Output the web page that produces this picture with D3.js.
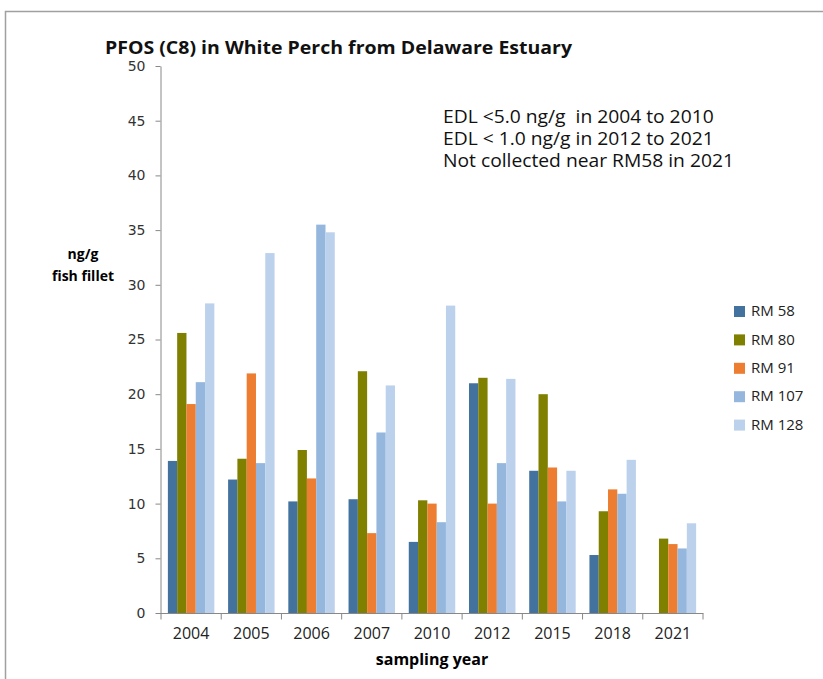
<!DOCTYPE html>
<html>
<head>
<meta charset="utf-8">
<script src="https://cdn.jsdelivr.net/npm/d3@7"></script>
<style>
body { margin: 0; background: #fff; }
text { font-family: "Open Sans", Lato, sans-serif; }
</style>
</head>
<body>
<svg id="svg"></svg>
<script>
var width = 823, height = 679;

var years = ["2004", "2005", "2006", "2007", "2010", "2012", "2015", "2018", "2021"];
var sites = ["RM 58", "RM 80", "RM 91", "RM 107", "RM 128"];
var colors = ["#44729f", "#7f7f00", "#ed7d31", "#95b7de", "#bcd1ec"];

// values by site, one per year (null = not collected)
var rm58 = [13.9, 12.2, 10.2, 10.4, 6.5, 21.0, 13.0, 5.3, null];
var rm80 = [25.6, 14.1, 14.9, 22.1, 10.3, 21.5, 20.0, 9.3, 6.8];
var rm91 = [19.1, 21.9, 12.3, 7.3, 10.0, 10.0, 13.3, 11.3, 6.3];
var rm107 = [21.1, 13.7, 35.5, 16.5, 8.3, 13.7, 10.2, 10.9, 5.9];
var rm128 = [28.3, 32.9, 34.8, 20.8, 28.1, 21.4, 13.0, 14.0, 8.2];
var yTicks = [0, 5, 10, 15, 20, 25, 30, 35, 40, 45, 50];
var notes = ["EDL <5.0 ng/g  in 2004 to 2010", "EDL < 1.0 ng/g in 2012 to 2021", "Not collected near RM58 in 2021"];

var series = [rm58, rm80, rm91, rm107, rm128];

var svg = d3.select("#svg")
	.attr("width", width)
	.attr("height", height);

// frame lines (top and left only visible)
svg.append("path")
	.attr("d", "M5.5," + height + "V11.5H" + width)
	.attr("fill", "none")
	.attr("stroke", "#a0a0a0")
	.attr("stroke-width", 1.5);

var x0 = d3.scaleBand()
	.domain(years)
	.range([161, 703]);

var x1 = d3.scaleBand()
	.domain(sites)
	.range([0, x0.bandwidth()])
	.paddingInner(0)
	.paddingOuter(0.74);

var y = d3.scaleLinear()
	.domain([0, 50])
	.range([613, 66]);

var color = d3.scaleOrdinal().domain(sites).range(colors);

var rows = years.map(function(yr, i) {
	return { year: yr, vals: sites.map(function(s, j) { return { key: s, value: series[j][i] }; }) };
});

svg.append("g")
	.selectAll("g")
	.data(rows)
	.enter()
	.append("g")
	.attr("transform", function(d) { return "translate(" + x0(d.year) + ",0)"; })
	.selectAll("rect")
	.data(function(d) { return d.vals.filter(function(v) { return v.value != null; }); })
	.enter().append("rect")
	.attr("x", function(d) { return x1(d.key); })
	.attr("y", function(d) { return y(d.value); })
	.attr("width", x1.bandwidth())
	.attr("height", function(d) { return y(0) - y(d.value); })
	.attr("fill", function(d) { return color(d.key); });

// y axis
var yAxis = svg.append("g")
	.attr("transform", "translate(160.5,0)")
	.call(d3.axisLeft(y).tickValues(yTicks).tickSize(5).tickSizeOuter(0).tickPadding(10));
yAxis.selectAll("text")
	.attr("fill", "#333")
	.style("font-family", "'DejaVu Sans', sans-serif")
	.style("font-size", "14px");

// x axis with ticks at band boundaries
var xAxis = svg.append("g")
	.attr("transform", "translate(0," + (y(0) + 0.5) + ")")
	.call(d3.axisBottom(x0).tickSize(0).tickPadding(14));
xAxis.selectAll("text")
	.style("font-size", "16px")
	.attr("fill", "#222");
xAxis.selectAll(".tickline")
	.data(years.concat(["end"]))
	.enter().append("line")
	.attr("class", "tickline")
	.attr("x1", function(d, i) { return i < years.length ? x0(d) : x0(years[years.length - 1]) + x0.bandwidth(); })
	.attr("x2", function(d, i) { return i < years.length ? x0(d) : x0(years[years.length - 1]) + x0.bandwidth(); })
	.attr("y1", 0)
	.attr("y2", 6);
xAxis.select(".domain").attr("d", "M160,0H703.5");
svg.selectAll(".domain, .tick line, .tickline").attr("stroke", "#888");

// title
svg.append("text")
	.attr("x", 105)
	.attr("y", 54)
	.attr("font-weight", "bold")
	.attr("font-size", 17)
	.attr("fill", "#111")
	.attr("textLength", 467)
	.attr("lengthAdjust", "spacingAndGlyphs")
	.text("PFOS (C8) in White Perch from Delaware Estuary");

// y label
svg.append("text")
	.attr("x", 83)
	.attr("y", 259)
	.attr("text-anchor", "middle")
	.attr("font-weight", "bold")
	.attr("font-size", 14)
	.text("ng/g");
svg.append("text")
	.attr("x", 83)
	.attr("y", 281)
	.attr("text-anchor", "middle")
	.attr("font-weight", "bold")
	.attr("font-size", 14)
	.text("fish fillet");

// x label
svg.append("text")
	.attr("x", 432)
	.attr("y", 665)
	.attr("text-anchor", "middle")
	.attr("font-weight", "bold")
	.attr("font-size", 16)
	.text("sampling year");

// notes
svg.append("g")
	.attr("transform", "translate(443,0) scale(1.07,1)")
	.selectAll("text")
	.data(notes)
	.enter().append("text")
	.attr("x", 0)
	.attr("y", function(d, i) { return 123 + i * 22; })
	.attr("font-size", 18)
	.attr("fill", "#111")
	.style("white-space", "pre")
	.text(function(d) { return d; });

// legend
var legend = svg.append("g")
	.selectAll("g")
	.data(sites)
	.enter()
	.append("g")
	.attr("transform", function(d, i) { return "translate(734," + (311 + i * 28.4) + ")"; });

legend.append("rect")
	.attr("y", -5)
	.attr("width", 11)
	.attr("height", 11)
	.attr("fill", color);

legend.append("text")
	.attr("x", 17)
	.attr("dy", "0.35em")
	.attr("font-size", 15)
	.attr("fill", "#222")
	.text(function(d) { return d; });
</script>
</body>
</html>
